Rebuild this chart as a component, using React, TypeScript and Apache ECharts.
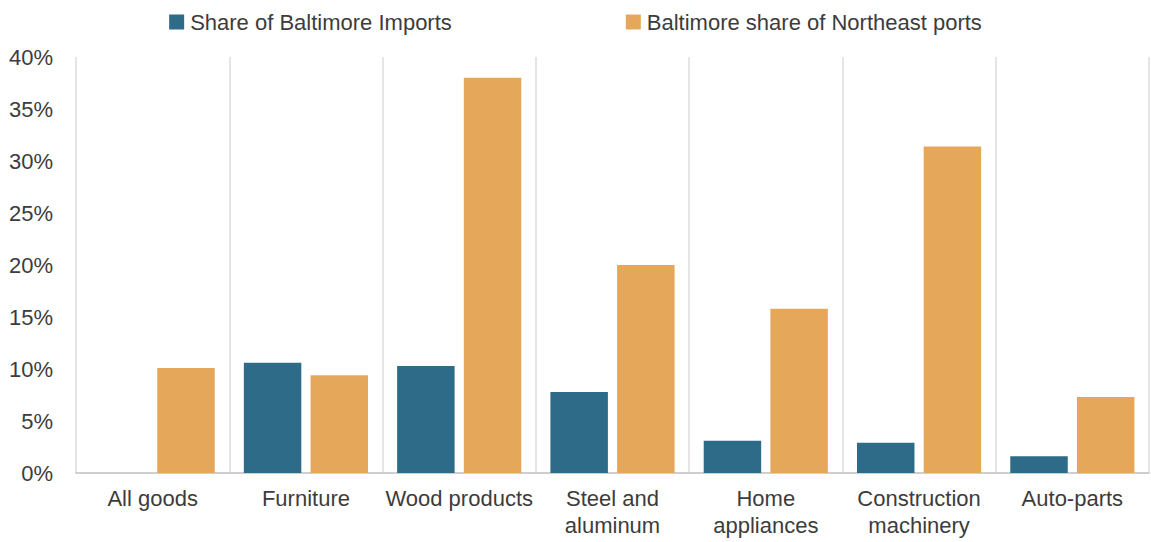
import React, { useEffect, useRef } from "react";
import * as echarts from "echarts";

const categories = [
  "All goods",
  "Furniture",
  "Wood products",
  "Steel and\naluminum",
  "Home\nappliances",
  "Construction\nmachinery",
  "Auto-parts",
];

const seriesNames = ["Share of Baltimore Imports", "Baltimore share of Northeast ports"];

// Percent values per category
const baltimoreImportsShare = [0, 10.6, 10.3, 7.8, 3.1, 2.9, 1.6];
const northeastPortsShare = [10.1, 9.4, 38.0, 20.0, 15.8, 31.4, 7.3];

const yTicks = { min: 0, max: 40, interval: 5 };

const FONT = "'Liberation Sans', Arial, Helvetica, sans-serif";
const TEXT = "#3c3c3c";

export default function App() {
  const ref = useRef<HTMLDivElement>(null);

  useEffect(() => {
    if (!ref.current) return;
    const chart = echarts.init(ref.current, null, { renderer: "svg" });
    chart.setOption({
      animation: false,
      backgroundColor: "#ffffff",
      textStyle: { fontFamily: FONT },
      legend: {
        top: 6,
        left: "center",
        itemWidth: 15,
        itemHeight: 15,
        itemGap: 174,
        icon: "rect",
        textStyle: { fontSize: 22, color: TEXT, fontFamily: FONT, padding: [0, 0, 0, 1] },
        data: seriesNames,
      },
      grid: { left: 76, right: 2, top: 57, bottom: 69, containLabel: false },
      xAxis: {
        type: "category",
        data: categories,
        axisLine: { show: true, lineStyle: { color: "#bfbfbf", width: 1.5 } },
        axisTick: { show: false },
        splitLine: { show: true, lineStyle: { color: "#dcdcdc", width: 1.5 } },
        axisLabel: {
          fontSize: 22,
          color: TEXT,
          fontFamily: FONT,
          margin: 12,
          lineHeight: 27,
          interval: 0,
        },
      },
      yAxis: {
        type: "value",
        min: yTicks.min,
        max: yTicks.max,
        interval: yTicks.interval,
        axisLine: { show: false },
        axisTick: { show: false },
        splitLine: { show: false },
        axisLabel: {
          fontSize: 22,
          color: TEXT,
          fontFamily: FONT,
          margin: 23,
          formatter: (v: number) => `${v}%`,
        },
      },
      series: [
        {
          name: seriesNames[0],
          type: "bar",
          data: baltimoreImportsShare,
          itemStyle: { color: "#2e6b89" },
          barGap: "16%",
          barCategoryGap: "19%",
        },
        {
          name: seriesNames[1],
          type: "bar",
          data: northeastPortsShare,
          itemStyle: { color: "#e5a85a" },
          barGap: "16%",
          barCategoryGap: "19%",
        },
      ],
    });
    return () => chart.dispose();
  }, []);

  return (
    <div
      ref={ref}
      style={{ position: "fixed", left: 0, top: 0, width: 1151, height: 542 }}
    />
  );
}
